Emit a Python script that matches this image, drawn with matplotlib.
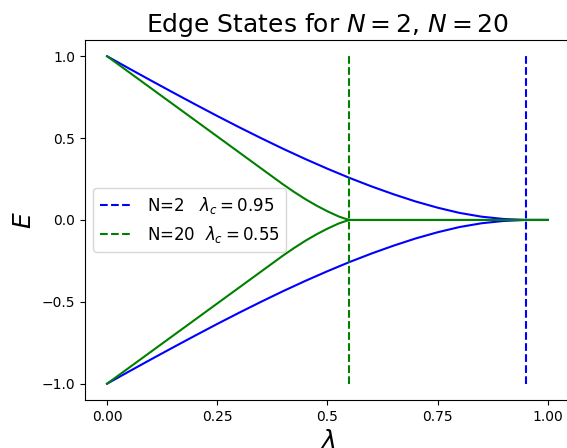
import numpy as np
import matplotlib.pyplot as plt

# lambda grid and edge state energies
lam_n2 = [0.00, 0.05, 0.10, 0.15, 0.20, 0.25, 0.30, 0.35, 0.40, 0.45,
          0.50, 0.55, 0.60, 0.65, 0.70, 0.75, 0.80, 0.85, 0.90, 0.95, 1.00]
E_n2 = [1.000, 0.925, 0.851, 0.778, 0.706, 0.635, 0.566, 0.499, 0.434, 0.372,
        0.313, 0.257, 0.205, 0.157, 0.113, 0.075, 0.043, 0.020, 0.006, 0.000, 0.000]

lam_n20 = [0.00, 0.05, 0.10, 0.15, 0.20, 0.25, 0.30, 0.35, 0.375, 0.40,
           0.425, 0.45, 0.475, 0.50, 0.525, 0.54, 0.55, 0.60, 0.70, 0.80,
           0.90, 1.00]
E_n20 = [1.000, 0.902, 0.804, 0.706, 0.608, 0.510, 0.412, 0.314, 0.265, 0.216,
         0.170, 0.127, 0.088, 0.053, 0.022, 0.008, 0.000, 0.000, 0.000, 0.000,
         0.000, 0.000]

lam_c = {'N=2': 0.95, 'N=20': 0.55}
xticks = [0.0, 0.25, 0.5, 0.75, 1.0]
xticklabels = ['0.00', '0.25', '0.5', '0.75', '1.00']

fig = plt.figure(figsize=(5.67, 4.48), dpi=100)
ax = fig.add_axes([0.15, 0.107, 0.855, 0.804])

ax.plot(lam_n2, E_n2, color='blue', lw=1.5)
ax.plot(lam_n2, -np.array(E_n2), color='blue', lw=1.5)
ax.plot(lam_n20, E_n20, color='green', lw=1.5)
ax.plot(lam_n20, -np.array(E_n20), color='green', lw=1.5)

ax.vlines(lam_c['N=2'], -1, 1, colors='blue', linestyles='--', lw=1.5,
          label=r'N=2   $\lambda_c = 0.95$')
ax.vlines(lam_c['N=20'], -1, 1, colors='green', linestyles='--', lw=1.5,
          label=r'N=20  $\lambda_c = 0.55$')

ax.set_xticks(xticks)
ax.set_xticklabels(xticklabels)
ax.set_yticks([-1.0, -0.5, 0.0, 0.5, 1.0])
ax.set_xlim(-0.05, 1.05)
ax.set_ylim(-1.1, 1.1)

ax.set_title(r'Edge States for $N=2$, $N=20$', fontsize=18)
ax.set_xlabel(r'$\lambda$', fontsize=18)
ax.set_ylabel(r'$E$', fontsize=18)
ax.legend(loc='center left', fontsize=12)

fig.savefig('out.png', dpi=100)
